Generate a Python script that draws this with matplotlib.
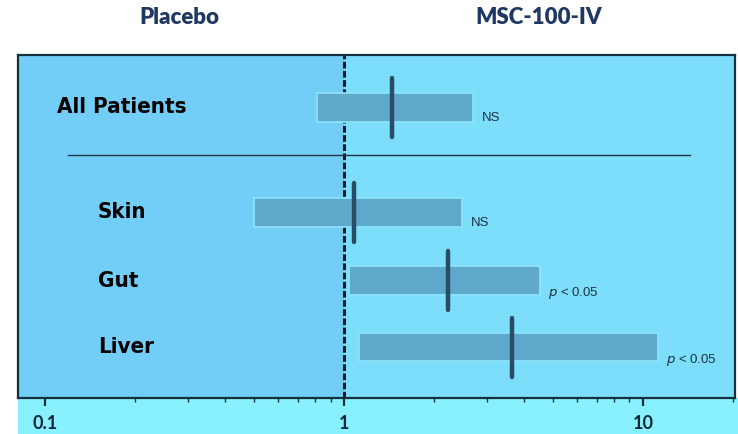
import matplotlib
matplotlib.use("Agg")
import matplotlib.pyplot as plt
from matplotlib.patches import Rectangle
from matplotlib.ticker import FixedLocator, NullFormatter

# ---- data ----
groups = ["All Patients", "Skin", "Gut", "Liver"]
ci_low = [0.81, 0.50, 1.04, 1.12]
ci_high = [2.70, 2.48, 4.52, 11.2]
estimate = [1.44, 1.08, 2.23, 3.65]
pvals = ["NS", "NS", "p", "p"]
major_ticks = [0.1, 1, 10]
major_labels = ["0.1", "1", "10"]
header_labels = ["Placebo", "MSC-100-IV"]

# ---- layout ----
row_pos = [0.0, 1.57, 2.59, 3.58]
bar_h = 0.43
mark_h = 0.88
sep_y = 0.71

W, H = 738, 434
fig = plt.figure(figsize=(W / 100, H / 100), dpi=100)
fig.patch.set_facecolor("white")

ax_left, ax_right, ax_top, ax_bot = 18, 735, 55, 398
# bottom strip light cyan
fig.patches.append(Rectangle((ax_left / W, 0), (W - ax_left) / W, (H - ax_bot) / H,
                             transform=fig.transFigure, facecolor="#89F1FE",
                             edgecolor="none", zorder=-5))

ax = fig.add_axes([ax_left / W, (H - ax_bot) / H, (ax_right - ax_left) / W,
                   (ax_bot - ax_top) / H])
ax.set_zorder(2)
ax.set_xscale("log")
ax.set_xlim(0.081, 20.3)
ax.set_ylim(4.34, -0.78)
ax.set_facecolor("#7DDEFB")
ax.axvspan(0.01, 1, color="#73CEF7", zorder=0, lw=0)

ax.axvline(1, color="#0a1a22", lw=2.2, ls=(0, (2.2, 0.8)), zorder=1)
ax.axhline(sep_y, xmin=(68 - ax_left) / (ax_right - ax_left),
           xmax=(690 - ax_left) / (ax_right - ax_left), color="#1c3340", lw=1.0, zorder=1)

for i, g in enumerate(groups):
    y = row_pos[i]
    ax.barh(y, ci_high[i] - ci_low[i], left=ci_low[i], height=bar_h,
            color="#5FA9CD", edgecolor="#8FE6FD", linewidth=1.2, zorder=2)
    ax.plot([estimate[i], estimate[i]], [y - mark_h / 2, y + mark_h / 2],
            color="#2A4D66", lw=3.2, solid_capstyle="round", zorder=3)
    xt = 57 if i == 0 else 98
    ax.text((xt - ax_left) / (ax_right - ax_left), y, g,
            transform=ax.get_yaxis_transform(), ha="left", va="center",
            fontsize=16, fontweight="bold", fontstretch="condensed", color="black",
            family=["DejaVu Sans"])
    if pvals[i] == "NS":
        ax.annotate("NS", (ci_high[i], y), xytext=(6, -7.5), textcoords="offset points",
                    ha="left", va="center", fontsize=9.5, color="#1e3140",
                    family=["Liberation Sans", "DejaVu Sans"])
    else:
        ax.annotate(r"$\mathit{p}$ < 0.05", (ci_high[i], y), xytext=(6, -9),
                    textcoords="offset points", ha="left", va="center",
                    fontsize=9.5, color="#1e3140",
                    family=["Liberation Sans", "DejaVu Sans"])

# axes styling
for s in ["top", "bottom", "left", "right"]:
    ax.spines[s].set_color("#15303d")
    ax.spines[s].set_linewidth(1.6)
ax.set_yticks([])
ax.xaxis.set_major_locator(FixedLocator(major_ticks))
ax.set_xticklabels(major_labels)
minor = [m * d for d in (0.1, 1) for m in range(2, 10)] + [20]
ax.xaxis.set_minor_locator(FixedLocator(minor))
ax.xaxis.set_minor_formatter(NullFormatter())
ax.tick_params(axis="x", which="major", length=6, width=1.6, color="#15303d",
               pad=6, labelsize=13, labelcolor="#10263a")
ax.tick_params(axis="x", which="minor", length=3, width=1.0, color="#15303d")
for lab in ax.get_xticklabels():
    lab.set_fontweight("bold")
    lab.set_family(["Lato", "DejaVu Sans"])

# headers
for lbl, xc in zip(header_labels, [179.5, 539]):
    fig.text(xc / W, 1 - 18 / H, lbl, ha="center", va="center", fontsize=16,
             fontweight="heavy", color="#1F3864", family=["Lato", "DejaVu Sans"])

fig.savefig("out.png", dpi=100)
